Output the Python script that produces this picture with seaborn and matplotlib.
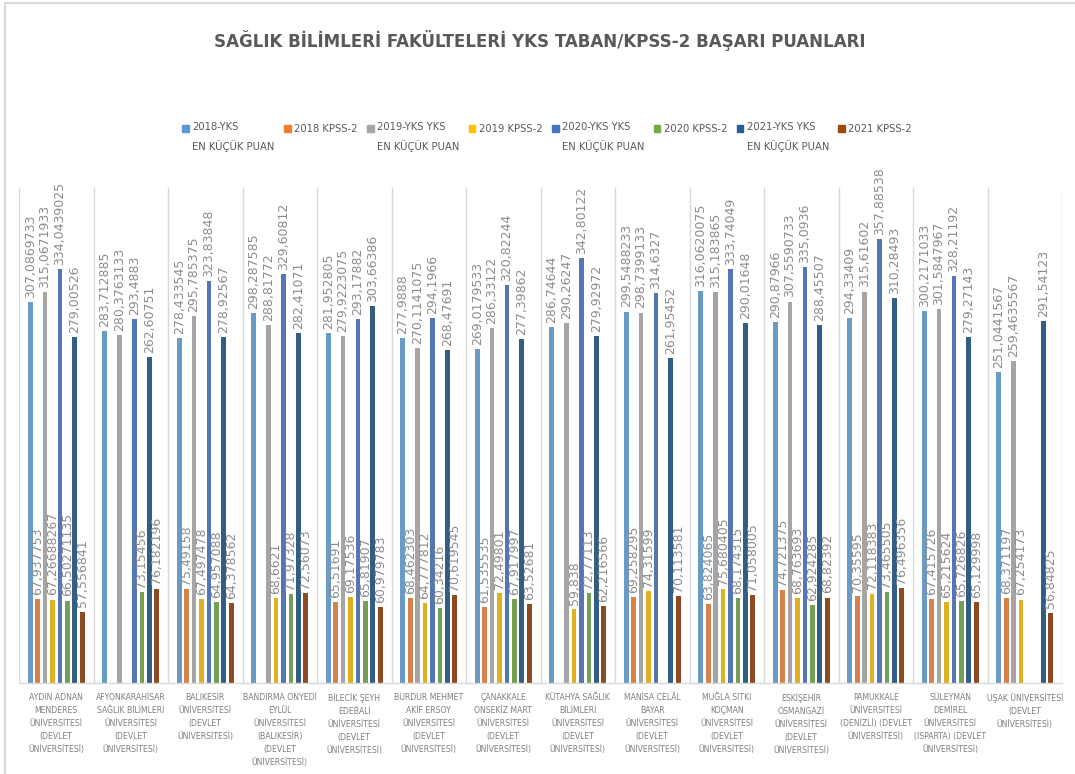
import numpy as np
import pandas as pd
import matplotlib
matplotlib.use("Agg")
import matplotlib.pyplot as plt
import seaborn as sns
from matplotlib.patches import Rectangle
from matplotlib.legend_handler import HandlerPatch
from matplotlib import font_manager
from matplotlib.font_manager import FontProperties

# ---------------- data ----------------
UNIVERSITIES = [
    "AYDIN ADNAN\nMENDERES\nÜNİVERSİTESİ\n(DEVLET\nÜNİVERSİTESİ)",
    "AFYONKARAHİSAR\nSAĞLIK BİLİMLERİ\nÜNİVERSİTESİ\n(DEVLET\nÜNİVERSİTESİ)",
    "BALIKESİR\nÜNİVERSİTESİ\n(DEVLET\nÜNİVERSİTESİ)",
    "BANDIRMA ONYEDİ\nEYLÜL\nÜNİVERSİTESİ\n(BALIKESİR)\n(DEVLET\nÜNİVERSİTESİ)",
    "BİLECİK ŞEYH\nEDEBALİ\nÜNİVERSİTESİ\n(DEVLET\nÜNİVERSİTESİ)",
    "BURDUR MEHMET\nAKİF ERSOY\nÜNİVERSİTESİ\n(DEVLET\nÜNİVERSİTESİ)",
    "ÇANAKKALE\nONSEKİZ MART\nÜNİVERSİTESİ\n(DEVLET\nÜNİVERSİTESİ)",
    "KÜTAHYA SAĞLIK\nBİLİMLERİ\nÜNİVERSİTESİ\n(DEVLET\nÜNİVERSİTESİ)",
    "MANİSA CELÂL\nBAYAR\nÜNİVERSİTESİ\n(DEVLET\nÜNİVERSİTESİ)",
    "MUĞLA SITKI\nKOÇMAN\nÜNİVERSİTESİ\n(DEVLET\nÜNİVERSİTESİ)",
    "ESKİŞEHİR\nOSMANGAZİ\nÜNİVERSİTESİ\n(DEVLET\nÜNİVERSİTESİ)",
    "PAMUKKALE\nÜNİVERSİTESİ\n(DENİZLİ) (DEVLET\nÜNİVERSİTESİ)",
    "SÜLEYMAN\nDEMİREL\nÜNİVERSİTESİ\n(ISPARTA) (DEVLET\nÜNİVERSİTESİ)",
    "UŞAK ÜNİVERSİTESİ\n(DEVLET\nÜNİVERSİTESİ)",
]

SERIES = [
    "2018-YKS\nEN KÜÇÜK PUAN",
    "2018 KPSS-2",
    "2019-YKS YKS\nEN KÜÇÜK PUAN",
    "2019 KPSS-2",
    "2020-YKS YKS\nEN KÜÇÜK PUAN",
    "2020 KPSS-2",
    "2021-YKS YKS\nEN KÜÇÜK PUAN",
    "2021 KPSS-2",
]

nan = np.nan
YKS_2018 = [307.0869733, 283.712885, 278.433545, 298.287585, 281.952805, 277.9888, 269.0179533,
            286.74644, 299.5488233, 316.0620075, 290.87966, 294.33409, 300.2171033, 251.0441567]
KPSS_2018 = [67.937753, nan, 75.49158, nan, 65.51691, 68.462303, 61.535535,
             nan, 69.258295, 63.824065, 74.721375, 70.35595, 67.415726, 68.371197]
YKS_2019 = [315.0671933, 280.3763133, 295.785375, 288.81772, 279.9223075, 270.1141075, 286.33122,
            290.26247, 298.7399133, 315.183865, 307.5590733, 315.61602, 301.5847967, 259.4635567]
KPSS_2019 = [67.26688267, nan, 67.497478, 68.6621, 69.17536, 64.777812, 72.49801,
             59.838, 74.31599, 75.680405, 68.763693, 72.118383, 65.215624, 67.254173]
YKS_2020 = [334.0439025, 293.4883, 323.83848, 329.60812, 293.17882, 294.1966, 320.82244,
            342.80122, 314.6327, 333.74049, 335.0936, 357.88538, 328.21192, nan]
KPSS_2020 = [66.50271135, 73.15456, 64.957088, 71.97328, 65.81907, 60.34216, 67.917997,
             72.77113, nan, 68.174315, 62.924285, 73.465505, 65.726826, nan]
YKS_2021 = [279.00526, 262.60751, 278.92567, 282.41071, 303.66386, 268.47691, 277.39862,
            279.92972, 261.95452, 290.01648, 288.45507, 310.28493, 279.27143, 291.54123]
KPSS_2021 = [57.556841, 76.182196, 64.378562, 72.56073, 60.979783, 70.619545, 63.52681,
             62.216566, 70.113581, 71.058005, 68.82392, 76.496356, 65.129998, 56.84825]

VALUES = [YKS_2018, KPSS_2018, YKS_2019, KPSS_2019, YKS_2020, KPSS_2020, YKS_2021, KPSS_2021]
COLORS = ["#5B9BD5", "#ED7D31", "#A5A5A5", "#FFC000", "#4472C4", "#70AD47", "#255E91", "#9E480E"]
TITLE = "SAĞLIK BİLİMLERİ FAKÜLTELERİ YKS TABAN/KPSS-2 BAŞARI PUANLARI"

# ---------------- build frame ----------------
rows = []
for s, vals in zip(SERIES, VALUES):
    for u, v in zip(UNIVERSITIES, vals):
        rows.append({"uni": u, "series": s, "value": v})
df = pd.DataFrame(rows).dropna()

sns.set_theme(style="white")
plt.rcParams["font.family"] = ["DejaVu Sans"]

# pick a narrow font if one is available
files = {f.fname.split("/")[-1]: f.fname for f in font_manager.fontManager.ttflist}
def pick(cands):
    for c in cands:
        if c in files:
            return FontProperties(fname=files[c])
    return None
narrow_reg = pick(["LiberationSansNarrow-Regular.ttf", "DejaVuSansCondensed.ttf"]) \
    or FontProperties(family="Liberation Sans")
narrow_bold = pick(["LiberationSansNarrow-Bold.ttf", "DejaVuSansCondensed-Bold.ttf"]) \
    or FontProperties(family="Liberation Sans", weight="bold")

fig = plt.figure(figsize=(10.75, 7.74), dpi=100)
ax = fig.add_axes([19 / 1075, 1 - 683 / 774, (1062 - 19) / 1075, (683 - 187) / 774])

sns.barplot(data=df, x="uni", y="value", hue="series", order=UNIVERSITIES, hue_order=SERIES,
            palette=COLORS, width=0.8, gap=0.35, errorbar=None, ax=ax, legend=False,
            linewidth=0)

ax.set_ylim(0, 400)
ax.set_xlim(-0.5, len(UNIVERSITIES) - 0.5)
ax.vlines(np.arange(len(UNIVERSITIES) + 1) - 0.5, 0, 400, color="#D9D9D9", lw=1, zorder=0)
for side in ["top", "right", "left"]:
    ax.spines[side].set_visible(False)
ax.spines["bottom"].set_color("#D9D9D9")
ax.spines["bottom"].set_linewidth(1)
ax.set_yticks([])
ax.set_xlabel("")
ax.set_ylabel("")
ax.tick_params(axis="x", length=0, pad=7)
for t in ax.get_xticklabels():
    t.set_fontsize(5.6)
    t.set_color("#7F7F7F")
    t.set_linespacing(1.57)
    t.set_va("top")

for c in ax.containers:
    labels = [str(float(v)).replace(".", ",") for v in c.datavalues]
    ax.bar_label(c, labels=labels, rotation=90, padding=3, fontsize=9, color="#8C8C8C")

# ---------------- legend ----------------
def top_patch(legend, orig_handle, xdescent, ydescent, width, height, fontsize):
    return Rectangle((-xdescent, -ydescent + 0.75 * fontsize), width, height)

handles = [Rectangle((0, 0), 1, 1, color=c) for c in COLORS]
labels = [s if "\n" in s else s + "\n " for s in SERIES]
leg_prop = narrow_reg.copy()
leg_prop.set_size(8.0 if narrow_reg.get_name() != "Liberation Sans" else 7.0)
leg = fig.legend(handles, labels, loc="upper center", bbox_to_anchor=(0.509, 0.855), ncol=8,
                 frameon=False, handlelength=0.6, handleheight=0.6, handletextpad=0.3,
                 columnspacing=0.85, prop=leg_prop,
                 handler_map={Rectangle: HandlerPatch(patch_func=top_patch)})
for t in leg.get_texts():
    t.set_color("#595959")
    t.set_linespacing(1.8)

title_prop = narrow_bold.copy()
title_prop.set_size(13.3 if narrow_bold.get_name() != "Liberation Sans" else 11.0)
fig.text(0.502, 0.948, TITLE, ha="center", va="center", fontproperties=title_prop,
         color="#595959")

fig.patches.append(Rectangle((5 / 1075, -0.05), 1.2, 1.05 - 3 / 774, transform=fig.transFigure,
                             fill=False, edgecolor="#D9D9D9", lw=1.5))

fig.savefig("out.png", dpi=100)
